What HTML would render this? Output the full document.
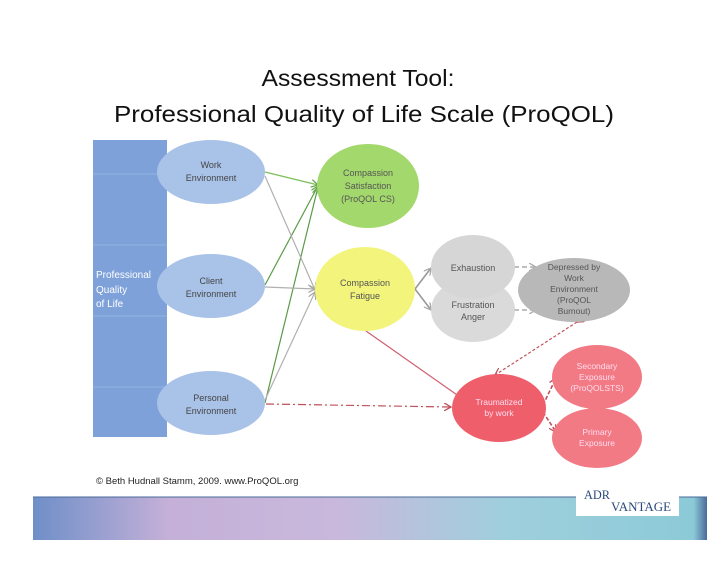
<!DOCTYPE html>
<html><head><meta charset="utf-8"><style>
html,body{margin:0;padding:0;background:#fff;width:728px;height:563px;overflow:hidden}
svg{display:block;font-family:"Liberation Sans",sans-serif}
</style></head><body>
<svg width="728" height="563" viewBox="0 0 728 563">
<defs>
<marker id="ag" markerWidth="8" markerHeight="8" refX="7" refY="4" orient="auto" markerUnits="userSpaceOnUse"><path d="M0,0 L7,4 L0,8" fill="none" stroke="#6aa84f" stroke-width="1.3"/></marker>
<marker id="ay" markerWidth="8" markerHeight="8" refX="7" refY="4" orient="auto" markerUnits="userSpaceOnUse"><path d="M0,0 L7,4 L0,8" fill="none" stroke="#aaa" stroke-width="1.3"/></marker>
<marker id="ar" markerWidth="8" markerHeight="8" refX="7" refY="4" orient="auto" markerUnits="userSpaceOnUse"><path d="M0,0 L7,4 L0,8" fill="none" stroke="#c0505a" stroke-width="1.3"/></marker>
<linearGradient id="band" x1="0" y1="0" x2="1" y2="0">
<stop offset="0" stop-color="#6f8fc8"/><stop offset="0.2" stop-color="#c4b0d8"/><stop offset="0.45" stop-color="#c9b8dc"/><stop offset="0.7" stop-color="#9fcfdc"/><stop offset="0.98" stop-color="#8ccad8"/><stop offset="1" stop-color="#4a6a9a"/></linearGradient>
</defs>
<text x="358" y="86" font-size="23" text-anchor="middle" fill="#111" textLength="193" lengthAdjust="spacingAndGlyphs">Assessment Tool:</text>
<text x="364" y="122" font-size="23" text-anchor="middle" fill="#111" textLength="500" lengthAdjust="spacingAndGlyphs">Professional Quality of Life Scale (ProQOL)</text>

<rect x="93" y="140" width="74" height="297" fill="#7fa1d9"/>
<g stroke="#93b2e0" stroke-width="1"><line x1="93" y1="174" x2="167" y2="174"/><line x1="93" y1="245" x2="167" y2="245"/><line x1="93" y1="316" x2="167" y2="316"/><line x1="93" y1="387" x2="167" y2="387"/></g>
<text font-size="10" fill="#fff"><tspan x="96" y="278">Professional</tspan><tspan x="96" y="293">Quality</tspan><tspan x="96" y="307">of Life</tspan></text>

<g stroke-width="1.2" fill="none">
<line x1="265" y1="172" x2="318" y2="185" stroke="#7bbf5a" marker-end="url(#ag)"/>
<line x1="265" y1="285" x2="318" y2="186" stroke="#5a9a45" marker-end="url(#ag)"/>
<line x1="265" y1="403" x2="318" y2="187" stroke="#5a9a45" marker-end="url(#ag)"/>
<line x1="265" y1="176" x2="315" y2="290" stroke="#b0b0b0" marker-end="url(#ay)"/>
<line x1="265" y1="287" x2="315" y2="289" stroke="#b0b0b0" marker-end="url(#ay)"/>
<line x1="265" y1="400" x2="315" y2="292" stroke="#b0b0b0" marker-end="url(#ay)"/>
<line x1="366" y1="331" x2="460" y2="397" stroke="#d06070"/>
<line x1="266" y1="404" x2="451" y2="407" stroke="#c0505a" stroke-dasharray="8,3,2,3" marker-end="url(#ar)"/>
<line x1="415" y1="289" x2="431" y2="268" stroke="#999" stroke-width="1.6" marker-end="url(#ay)"/>
<line x1="415" y1="289" x2="431" y2="310" stroke="#999" stroke-width="1.6" marker-end="url(#ay)"/>
<line x1="514" y1="267" x2="536" y2="267" stroke="#aaa" stroke-width="1.6" stroke-dasharray="5,3" marker-end="url(#ay)"/>
<line x1="514" y1="310" x2="536" y2="310" stroke="#aaa" stroke-width="1.6" stroke-dasharray="5,3" marker-end="url(#ay)"/>
<line x1="577" y1="322" x2="495" y2="375" stroke="#c0505a" stroke-dasharray="3,2" marker-end="url(#ar)" marker-start="url(#ar)"/>
<path d="M543,405 L556,378" stroke="#c0505a" stroke-width="1.6" stroke-dasharray="4,2" marker-end="url(#ar)"/>
<path d="M543,412 L556,432" stroke="#c0505a" stroke-width="1.6" stroke-dasharray="4,2" marker-end="url(#ar)"/>
</g>

<g font-size="9" text-anchor="middle">
<ellipse cx="211" cy="172" rx="54" ry="32" fill="#a9c2e8"/>
<text fill="#444"><tspan x="211" y="168">Work</tspan><tspan x="211" y="181">Environment</tspan></text>
<ellipse cx="211" cy="286" rx="54" ry="32" fill="#a9c2e8"/>
<text fill="#444"><tspan x="211" y="284">Client</tspan><tspan x="211" y="297">Environment</tspan></text>
<ellipse cx="211" cy="403" rx="54" ry="32" fill="#a9c2e8"/>
<text fill="#444"><tspan x="211" y="401">Personal</tspan><tspan x="211" y="414">Environment</tspan></text>

<ellipse cx="368" cy="186" rx="51" ry="42" fill="#a3d86c"/>
<text fill="#555"><tspan x="368" y="176">Compassion</tspan><tspan x="368" y="189">Satisfaction</tspan><tspan x="368" y="202">(ProQOL CS)</tspan></text>
<ellipse cx="365" cy="289" rx="50" ry="42" fill="#f2f47c"/>
<text fill="#555"><tspan x="365" y="286">Compassion</tspan><tspan x="365" y="299">Fatigue</tspan></text>

<ellipse cx="473" cy="267" rx="42" ry="32" fill="#d6d6d6"/>
<ellipse cx="473" cy="310" rx="42" ry="32" fill="#d6d6d6" fill-opacity="0.9"/>
<text fill="#555"><tspan x="473" y="271">Exhaustion</tspan></text>
<text fill="#555"><tspan x="473" y="308">Frustration</tspan><tspan x="473" y="320">Anger</tspan></text>
<ellipse cx="574" cy="290" rx="56" ry="32" fill="#b8b8b8"/>
<text fill="#555" font-size="8.5"><tspan x="574" y="270">Depressed by</tspan><tspan x="574" y="281">Work</tspan><tspan x="574" y="292">Environment</tspan><tspan x="574" y="303">(ProQOL</tspan><tspan x="574" y="314">Burnout)</tspan></text>

<ellipse cx="499" cy="408" rx="47" ry="34" fill="#ee5f6b"/>
<text fill="#fde" font-size="8.5"><tspan x="499" y="405">Traumatized</tspan><tspan x="499" y="416">by work</tspan></text>
<ellipse cx="597" cy="377" rx="45" ry="32" fill="#f27a85"/>
<text fill="#fde" font-size="8.5"><tspan x="597" y="369">Secondary</tspan><tspan x="597" y="380">Exposure</tspan><tspan x="597" y="391">(ProQOLSTS)</tspan></text>
<ellipse cx="597" cy="438" rx="45" ry="30" fill="#f27a85"/>
<text fill="#fde" font-size="8.5"><tspan x="597" y="435">Primary</tspan><tspan x="597" y="446">Exposure</tspan></text>
</g>

<text x="96" y="484" font-size="9.5" fill="#222">© Beth Hudnall Stamm, 2009.  www.ProQOL.org</text>
<rect x="33" y="497" width="674" height="43" fill="url(#band)"/>
<line x1="33" y1="497" x2="707" y2="497" stroke="#4a6a9a"/>
<rect x="576" y="481" width="103" height="35" fill="#fff"/>
<text x="584" y="499" font-family="Liberation Serif,serif" font-size="13" fill="#2a4a7a" textLength="26" lengthAdjust="spacingAndGlyphs">ADR</text>
<text x="611" y="511" font-family="Liberation Serif,serif" font-size="13" fill="#2a4a7a" textLength="60" lengthAdjust="spacingAndGlyphs">VANTAGE</text>
</svg>
</body></html>
